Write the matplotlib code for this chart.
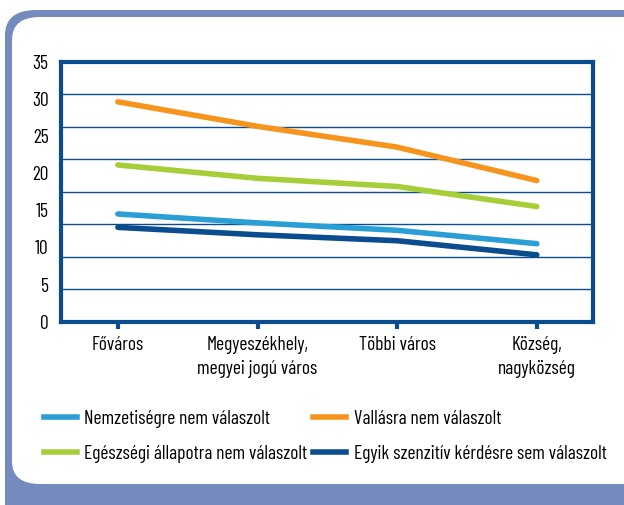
import matplotlib
matplotlib.use("Agg")
import matplotlib.pyplot as plt
from matplotlib.patches import FancyBboxPatch
from matplotlib.lines import Line2D
from matplotlib import font_manager

names = {f.name for f in font_manager.fontManager.ttflist}
fam = "DejaVu Sans"
for cand in ["Barlow Condensed", "Roboto Condensed", "Archivo Narrow", "PT Sans Narrow"]:
    if cand in names:
        fam = cand
        break
plt.rcParams["font.family"] = [fam, "DejaVu Sans"]
fs = 14

categories = ["Főváros", "Megyeszékhely,\nmegyei jogú város", "Többi város", "Község,\nnagyközség"]
nemzetiseg = [14.5, 13.3, 12.3, 10.5]
vallas = [29.6, 26.3, 23.5, 19.0]
egeszseg = [21.1, 19.3, 18.2, 15.5]
egyik = [12.7, 11.7, 10.9, 9.0]
series_names = ["Nemzetiségre nem válaszolt", "Vallásra nem válaszolt",
                "Egészségi állapotra nem válaszolt", "Egyik szenzitív kérdésre sem válaszolt"]
yticks = [0, 5, 10, 15, 20, 25, 30, 35]

c_light = "#2a9fd6"
c_orange = "#f7941d"
c_green = "#a6ce39"
c_dark = "#0b4c8f"
c_frame = "#758bbd"
colors = [c_light, c_orange, c_green, c_dark]

W, H = 624, 505
fig = plt.figure(figsize=(W / 100, H / 100), dpi=100)

# background frame
outer = FancyBboxPatch((5 / W, -0.2), 1.2, (H - 10) / H + 0.2,
                       boxstyle="round,pad=0,rounding_size=0.05",
                       transform=fig.transFigure, fc=c_frame, ec="none", zorder=-10)
inner = FancyBboxPatch((12 / W, (H - 484) / H), 1.2, (484 - 17) / H,
                       boxstyle="round,pad=0,rounding_size=0.045",
                       transform=fig.transFigure, fc="white", ec="none", zorder=-9)
fig.patches.extend([outer, inner])

ax = fig.add_axes([61 / W, (H - 321.7) / H, (592.7 - 61) / W, (321.7 - 61.7) / H])
ax.set_facecolor("none")
x = range(len(categories))
for vals, col in zip([nemzetiseg, vallas, egeszseg, egyik], colors):
    ax.plot(x, vals, color=col, lw=4, solid_capstyle="round", zorder=3)

ax.set_xlim(-0.407, 3.4)
ax.set_ylim(0, 35)
for i in range(1, 8):
    ax.axhline(i * 35 / 8, color=c_dark, lw=1, zorder=1)
ax.set_yticks(yticks)
ax.set_yticklabels([str(v) for v in yticks], fontsize=fs)
ax.tick_params(axis="y", length=0, pad=9)
ax.set_xticks(list(x))
ax.set_xticklabels(categories, fontsize=fs, linespacing=1.45)
ax.tick_params(axis="x", length=5, width=3, color=c_dark, pad=5)
for s in ax.spines.values():
    s.set_color(c_dark)
    s.set_linewidth(3)

# legend filled column-wise, so order it to read row by row
order = [0, 2, 1, 3]
handles = [Line2D([], [], color=colors[i], lw=4) for i in order]
labels = [series_names[i] for i in order]
fig.legend(handles, labels, loc="upper left", bbox_to_anchor=(26 / W, (H - 392) / H),
           ncol=2, frameon=False, fontsize=fs, handlelength=1.7, handletextpad=0.4,
           columnspacing=0.3, labelspacing=0.9)

fig.savefig("out.png", dpi=100)
